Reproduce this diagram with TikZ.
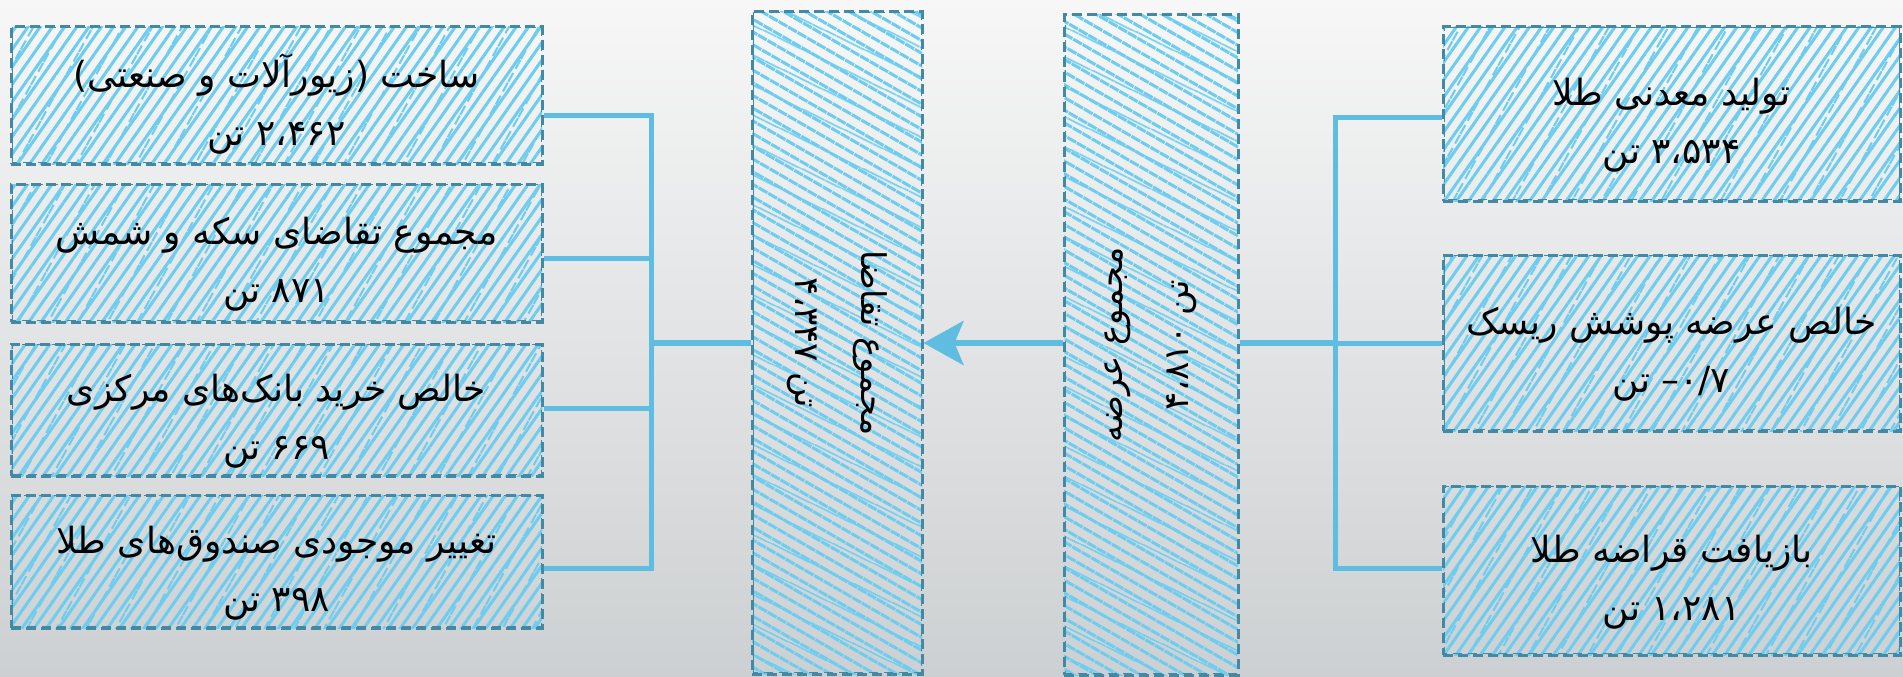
\documentclass[tikz,border=0pt]{standalone}
\usepackage{fontspec}
\newfontfamily\fa[Script=Arabic]{DejaVu Sans}
\TeXXeTstate=1
\usetikzlibrary{patterns.meta,arrows.meta}
\definecolor{hatch}{HTML}{6CCDF0}
\definecolor{edge}{HTML}{4389A4}
\definecolor{wire}{HTML}{5EBDE0}
\definecolor{bgtop}{HTML}{F7F7F7}
\definecolor{bgbot}{HTML}{CDD0D2}
\newcommand\fatext[1]{\beginR #1\endR}
\newcommand\topstrut{\rule{0pt}{50pt}}
\begin{document}
\begin{tikzpicture}[x=1pt,y=-1pt,
  boxbase/.style={rectangle, inner sep=0pt, align=center, draw=edge, line width=3pt,
    dash pattern=on 10pt off 5pt},
  hbox/.style={boxbase,
    pattern={Lines[angle=55,distance=10pt,line width=3pt]}, pattern color=hatch,
    preaction={pattern={Lines[angle=61,distance=26pt,line width=2pt]}, pattern color=hatch},
    font=\fa\fontsize{36}{58}\selectfont},
  lbox/.style={hbox, minimum width=531pt},
  rbox/.style={hbox, minimum width=457pt},
  vbox/.style={boxbase,
    pattern={Lines[angle=-30,distance=11pt,line width=3pt]}, pattern color=hatch,
    preaction={pattern={Lines[angle=-26,distance=27pt,line width=2pt]}, pattern color=hatch}},
  vtext/.style={inner sep=0pt, align=center, font=\fa\fontsize{34}{66}\selectfont},
  edgeB/.style={draw=edge, line width=1.8pt, dash pattern=on 9pt off 6pt, dash phase=5pt},
  wire/.style={draw=wire, line width=5pt, line join=miter},
  mainwire/.style={draw=wire, line width=6pt}
]
\useasboundingbox (0,0) rectangle (1903,677);
\fill[top color=bgtop, bottom color=bgbot] (0,0) rectangle (1903,677);

% demand side (left)
\node[lbox, minimum height=137pt] (b1) at (276.5,95.5)
  {\topstrut\fatext{ساخت (زیورآلات و صنعتی)}\\\fatext{\beginL۲،۴۶۲\endL{} تن}};
\node[lbox, minimum height=138pt] (b2) at (276.5,253)
  {\topstrut\fatext{مجموع تقاضای سکه و شمش}\\\fatext{\beginL۸۷۱\endL{} تن}};
\node[lbox, minimum height=132pt] (b3) at (276.5,410)
  {\topstrut\fatext{خالص خرید بانک‌های مرکزی}\\\fatext{\beginL۶۶۹\endL{} تن}};
\node[lbox, minimum height=133pt] (b4) at (276.5,561.5)
  {\topstrut\fatext{تغییر موجودی صندوق‌های طلا}\\\fatext{\beginL۳۹۸\endL{} تن}};

% totals
\node[vbox, minimum width=170pt, minimum height=662pt] (dem) at (837,343) {};
\node[vtext, rotate=-90] (demT) at (dem.center)
  {\fatext{مجموع تقاضا}\\\fatext{تن \beginL۴،۳۴۷\endL}};
\node[vbox, minimum width=174pt, minimum height=660pt] (sup) at (1151,345) {};
\node[vtext, rotate=90] (supT) at (sup.center)
  {\fatext{مجموع عرضه}\\\fatext{تن \beginL۴،۸۱۰\endL}};

% supply side (right)
\node[rbox, minimum height=174pt] (r1) at (1671.5,114)
  {\topstrut\fatext{تولید معدنی طلا}\\\fatext{\beginL۳،۵۳۴\endL{} تن}};
\node[rbox, minimum height=176pt] (r2) at (1671.5,343)
  {\topstrut\fatext{خالص عرضه پوشش ریسک}\\\fatext{\beginL۰/۷–\endL{} تن}};
\node[rbox, minimum height=169pt] (r3) at (1671.5,570.5)
  {\topstrut\fatext{بازیافت قراضه طلا}\\\fatext{\beginL۱،۲۸۱\endL{} تن}};

% sketchy second outlines
\foreach \n in {b1,b2,b3,b4,r1,r2,r3,dem,sup}
  \draw[edgeB] ([shift={(3,2)}]\n.north west) rectangle ([shift={(-2,-3)}]\n.south east);

% left bus
\coordinate (lb1) at (651,115);
\coordinate (lb2) at (651,258);
\coordinate (lb3) at (651,408);
\coordinate (lb4) at (651,568);
\coordinate (lbm) at (651,343);
\draw[wire] (b1.east |- lb1) -- (lb1) -- (lb4) -- (b4.east |- lb4);
\draw[wire] (b2.east |- lb2) -- (lb2);
\draw[wire] (b3.east |- lb3) -- (lb3);
\draw[mainwire] (lbm) -- (dem.west |- lbm);

% arrow supply -> demand
\coordinate (am) at (1000,343);
\draw[mainwire, -{Stealth[length=40pt,width=44pt,inset=9pt]}] (sup.west |- am) -- (dem.east |- am);

% right bus
\coordinate (rb1) at (1335,117);
\coordinate (rb2) at (1335,343);
\coordinate (rb3) at (1335,568);
\draw[wire] (r1.west |- rb1) -- (rb1) -- (rb3) -- (r3.west |- rb3);
\draw[wire] (rb2) -- (r2.west |- rb2);
\draw[mainwire] (sup.east |- rb2) -- (rb2);
\end{tikzpicture}
\end{document}
